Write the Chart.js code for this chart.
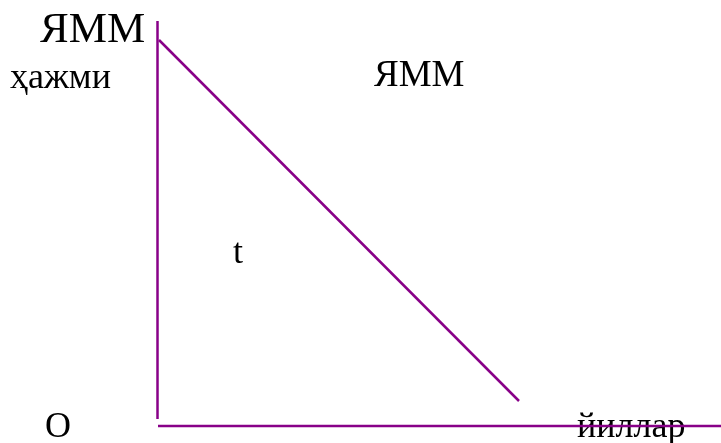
<!DOCTYPE html>
<html>
<head>
<meta charset="utf-8">
<title>ЯММ</title>
<script src="https://cdn.jsdelivr.net/npm/chart.js@4/dist/chart.umd.min.js"></script>
<style>
  html, body { margin: 0; padding: 0; background: #fff; }
  #wrap { width: 721px; height: 443px; }
</style>
</head>
<body>
<div id="wrap"><canvas id="chart-ymm" width="721" height="443"></canvas></div>
<script>
  "use strict";

  // Data - Start
  // --------------------------------------------------
  var axisY = [[-1.5, 7], [-1.5, 405]];
  var axisX = [[-1, 0], [562, 0]];
  var ymmLine = [[0, 386], [360, 25]];

  var labelTexts = ["ЯММ", "ҳажми", "ЯММ", "t", "О", "йиллар"];
  var labelX = [-119, -149, 215, 74, -114, 418];
  var labelY = [384, 338, 340, 163, -11, -11];
  var labelSize = [43, 36, 37, 36, 36, 36];
  // Data - End
  // --------------------------------------------------

  function toPoints(arr) {
    return arr.map(function (p) { return {x: p[0], y: p[1]}; });
  }

  // Labels plugin - Start
  // --------------------------------------------------
  var labelsPlugin = {
    id: 'labels',
    beforeDatasetsDraw: function (chart) {
      var ctx = chart.ctx;
      var sx = chart.scales.x, sy = chart.scales.y;
      ctx.save();
      ctx.fillStyle = '#000';
      ctx.textAlign = 'left';
      ctx.textBaseline = 'alphabetic';
      labelTexts.forEach(function (t, i) {
        ctx.font = labelSize[i] + 'px "Liberation Serif", "Times New Roman", serif';
        ctx.fillText(t, sx.getPixelForValue(labelX[i]), sy.getPixelForValue(labelY[i]));
      });
      ctx.restore();
    }
  };
  // Labels plugin - End
  // --------------------------------------------------

  var lineStyle = {
    showLine: true,
    borderColor: '#880088',
    borderWidth: 2.5,
    pointRadius: 0,
    fill: false,
    tension: 0
  };

  var configYmm = document.getElementById('chart-ymm').getContext('2d');
  var ymmChart = new Chart(configYmm, {
    type: 'scatter',
    data: {
      datasets: [
        Object.assign({label: 'y', data: toPoints(axisY)}, lineStyle),
        Object.assign({label: 'x', data: toPoints(axisX)}, lineStyle),
        Object.assign({label: 'ЯММ', data: toPoints(ymmLine)}, lineStyle)
      ]
    },
    options: {
      responsive: false,
      animation: false,
      layout: { padding: 0 },
      plugins: {
        legend: { display: false },
        tooltip: { enabled: false }
      },
      scales: {
        x: { type: 'linear', min: -159, max: 562, display: false },
        y: { type: 'linear', min: -17, max: 426, display: false }
      }
    },
    plugins: [labelsPlugin]
  });
</script>
</body>
</html>
